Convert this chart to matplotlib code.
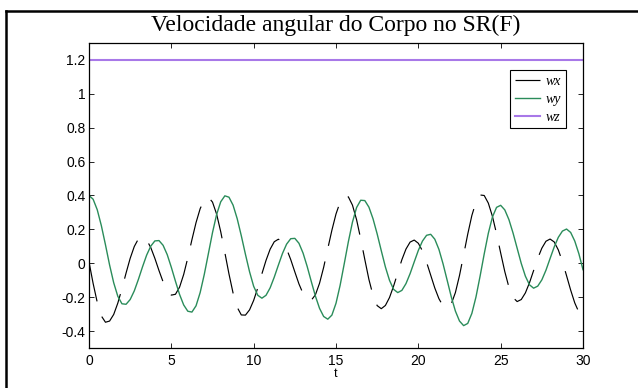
import numpy as np
import matplotlib
matplotlib.use("Agg")
import matplotlib.pyplot as plt
from matplotlib.lines import Line2D

# time axis (s) and angular velocity components
t = np.arange(0, 30.01, 0.25)

wx = [0.008, -0.119, -0.230, -0.311, -0.348, -0.341, -0.302, -0.235, -0.150,
      -0.058, 0.029, 0.099, 0.144, 0.157, 0.138, 0.093, 0.029,
      -0.043, -0.110, -0.161, -0.188, -0.183, -0.141, -0.066, 0.032,
      0.139, 0.240, 0.322, 0.375, 0.390, 0.361, 0.290, 0.186,
      0.063, -0.063, -0.176, -0.260, -0.305, -0.306, -0.275, -0.219,
      -0.145, -0.062, 0.017, 0.083, 0.127, 0.142, 0.127, 0.085,
      0.022, -0.051, -0.122, -0.179, -0.213, -0.218, -0.186, -0.118,
      -0.024, 0.086, 0.195, 0.291, 0.361, 0.397, 0.392, 0.343,
      0.257, 0.144, 0.022, -0.096, -0.190, -0.250, -0.268, -0.249,
      -0.202, -0.134, -0.056, 0.021, 0.084, 0.125, 0.137, 0.118,
      0.073, 0.006, -0.070, -0.146, -0.209, -0.252, -0.265, -0.240,
      -0.173, -0.072, 0.049, 0.172, 0.282, 0.362, 0.403, 0.400,
      0.355, 0.277, 0.174, 0.061, -0.049, -0.141, -0.202, -0.226,
      -0.214, -0.175, -0.115, -0.043, 0.029, 0.089, 0.130, 0.143,
      0.126, 0.079, 0.010, -0.073, -0.158, -0.234, -0.289, -0.317]

wy = [0.400, 0.378, 0.316, 0.222, 0.109, -0.010, -0.115, -0.195, -0.239,
      -0.242, -0.214, -0.163, -0.095, -0.021, 0.048, 0.101, 0.132,
      0.134, 0.106, 0.051, -0.024, -0.106, -0.184, -0.246, -0.283,
      -0.288, -0.251, -0.173, -0.066, 0.057, 0.181, 0.288, 0.363,
      0.398, 0.390, 0.343, 0.263, 0.162, 0.053, -0.050, -0.136,
      -0.189, -0.206, -0.189, -0.145, -0.082, -0.011, 0.058, 0.113,
      0.145, 0.147, 0.118, 0.060, -0.019, -0.108, -0.194, -0.266,
      -0.314, -0.330, -0.306, -0.236, -0.130, -0.003, 0.127, 0.243,
      0.329, 0.372, 0.370, 0.331, 0.262, 0.173, 0.074, -0.022,
      -0.101, -0.154, -0.173, -0.160, -0.120, -0.061, 0.008, 0.076,
      0.131, 0.165, 0.171, 0.142, 0.082, -0.003, -0.100, -0.198,
      -0.282, -0.341, -0.368, -0.355, -0.296, -0.199, -0.076, 0.055,
      0.177, 0.273, 0.330, 0.342, 0.315, 0.258, 0.179, 0.089,
      -0.001, -0.076, -0.127, -0.147, -0.135, -0.098, -0.041, 0.028,
      0.096, 0.153, 0.190, 0.202, 0.182, 0.131, 0.056, -0.038]

wz_value = 1.2
wz = np.full(len(t), wz_value)

yticks = [-0.4, -0.2, 0, 0.2, 0.4, 0.6, 0.8, 1, 1.2]
ytick_labels = ["-0.4", "-0.2", "0", "0.2", "0.4", "0.6", "0.8", "1", "1.2"]
xticks = [0, 5, 10, 15, 20, 25, 30]

plt.rcParams['font.family'] = ['Liberation Sans', 'DejaVu Sans']
plt.rcParams['lines.scale_dashes'] = False

fig = plt.figure(figsize=(6.38, 3.88), dpi=100)
ax = fig.add_axes([0.1395, 0.1031, 0.7743, 0.7861])

ax.plot(t, wx, color='black', linewidth=0.85, dashes=(29, 11.5), label='wx')
ax.plot(t, wy, color='#2a8c5a', linewidth=1.0, label='wy')
ax.plot(t, wz, color='#a878e8', linewidth=1.5, label='wz')

ax.set_xlim(0, 30)
ax.set_ylim(-0.5, 1.3)
ax.set_xticks(xticks)
ax.set_yticks(yticks)
ax.set_yticklabels(ytick_labels)
ax.tick_params(direction='in', top=True, right=True, length=3.3, width=0.6,
               labelsize=10)
ax.tick_params(axis='x', pad=4)
ax.tick_params(axis='y', pad=2.5)
for s in ax.spines.values():
    s.set_linewidth(0.9)

ax.set_xlabel('t', fontsize=9, labelpad=0)

leg = ax.legend(loc='upper right', bbox_to_anchor=(0.966, 0.9115),
                borderaxespad=0, fancybox=False, edgecolor='black',
                framealpha=1, handlelength=1.85, handletextpad=0.4,
                labelspacing=0.35, borderpad=0.35,
                prop={'family': 'Liberation Serif', 'style': 'italic', 'size': 10})
leg.get_frame().set_linewidth(0.8)

fig.text(0.5267, 0.920, 'Velocidade angular do Corpo no SR(F)',
         family='Liberation Serif', fontsize=17, ha='center', va='baseline')

# outer frame (only left and top edges visible in the reference)
fig.add_artist(Line2D([6 / 638, 6 / 638], [0, 1 - 11 / 388], color='black',
                      linewidth=1.8, transform=fig.transFigure))
fig.add_artist(Line2D([6 / 638, 1], [1 - 11 / 388, 1 - 11 / 388], color='black',
                      linewidth=1.8, transform=fig.transFigure))

fig.savefig('out.png', dpi=100)
